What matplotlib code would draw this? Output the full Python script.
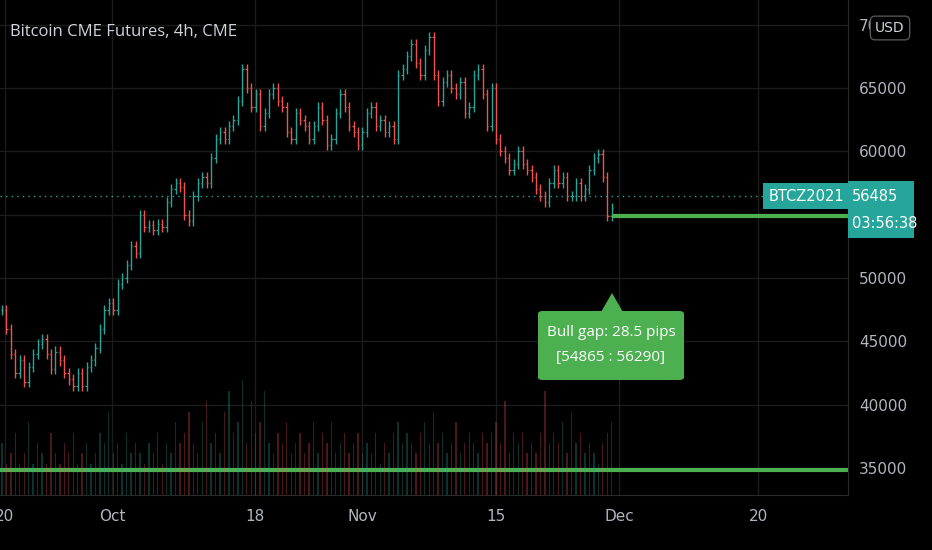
import matplotlib
matplotlib.use("Agg")
import matplotlib.pyplot as plt
from matplotlib.patches import FancyBboxPatch, Polygon
import numpy as np

closes = [47500,46000,44000,42500,43500,41800,43000,44000,44800,45200,44000,42800,44200,43500,42500,42000,41500,42500,41500,43000,43500,44500,
          46000,47500,48000,47500,49500,50000,51000,52500,52000,55000,54000,54200,53800,54300,54000,56000,57000,57500,57200,55000,54500,56500,57500,58000,57500,59500,61000,61500,61000,62000,62500,64000,
          66500,65000,63500,64500,62000,63000,64500,65000,64000,63500,61500,61000,63000,62500,62000,61000,62000,63500,62500,60500,61000,63000,64500,63500,62000,61500,60500,61500,
          63000,63500,62000,62500,61500,62000,61000,66000,66500,67500,68500,67000,66000,68000,69000,66000,64000,65500,66000,65000,64500,65500,63000,63500,66000,66500,64500,62000,
          65000,61000,60000,59500,58500,59000,60000,59000,58500,58000,57000,56500,56000,57500,58500,57500,58000,56500,56500,57500,56500,57000,58500,59500,59800,58000,54865,55500]
volumes = [5,3,4,6,3,4,7,3,5,4,3,6,4,3,5,4,6,3,4,5,3,4,
           6,5,8,4,5,3,6,4,5,4,3,5,4,6,3,5,4,7,5,6,8,5,4,7,9,5,6,4,8,10,6,7,
           11,5,9,6,7,10,5,4,6,5,7,4,5,6,4,5,7,4,6,5,7,4,5,6,4,5,6,4,
           5,4,6,3,5,4,6,7,5,6,5,4,6,7,5,8,5,6,4,5,7,4,5,6,5,4,6,5,
           6,7,5,9,4,6,5,6,4,5,4,6,10,5,6,5,7,4,8,5,6,4,5,4,3,5,6,7]
date_labels = ["20","Oct","18","Nov","15","Dec","20"]
date_px = [5,112,255,362,496,619,758]
y_ticks = [35000,40000,45000,50000,55000,60000,65000,70000]
last_price = 56485
gap_low, gap_high = 54865, 56290

W, H = 932, 550
fig = plt.figure(figsize=(9.32,5.5), dpi=100, facecolor="black")
plot_w, plot_h = 848, 495
ax = fig.add_axes([0, 1-plot_h/H, plot_w/W, plot_h/H], facecolor="black")
step = 4.45
def px2i(p): return (p-2)/step
ax.set_xlim(px2i(0), px2i(plot_w))
ax.set_ylim(32880, 71945)

vax = ax.twinx()
vax.set_ylim(0, 12*495/125)
vax.set_axis_off()

up, dn = "#26a69a", "#ef5350"
opens = [closes[0]] + closes[:-1]
for i,(o,c,v) in enumerate(zip(opens, closes, volumes)):
    col = up if c >= o else dn
    hi, lo = max(o,c)+400, min(o,c)-400
    ax.vlines(i, lo, hi, color=col, lw=1.0)
    ax.hlines(o, i-0.3, i, color=col, lw=0.9)
    ax.hlines(c, i, i+0.3, color=col, lw=0.9)
    vax.bar(i, v, width=0.3, color=col, alpha=0.3)

for y in y_ticks:
    ax.axhline(y, color="#1c1c1c", lw=1, zorder=0)
for p in date_px:
    ax.axvline(px2i(p), color="#1c1c1c", lw=1, zorder=0)

ax.axhline(last_price, color=up, ls=(0,(1,3)), lw=1)
ax.axhline(34850, color="#4caf50", lw=3)
ax.hlines(gap_low, len(closes)-1, px2i(plot_w), color="#4caf50", lw=3)

ax.set_xticks([px2i(p) for p in date_px])
ax.set_xticklabels(date_labels, color="#b2b5be", fontsize=11)
ax.tick_params(axis="x", length=0, pad=10)
ax.yaxis.tick_right()
ax.set_yticks(y_ticks)
ax.set_yticklabels([str(y) for y in y_ticks], color="#b2b5be", fontsize=11)
ax.tick_params(axis="y", length=0, pad=8)
for s in ax.spines.values(): s.set_visible(False)
ax.spines["bottom"].set_visible(True); ax.spines["bottom"].set_color("#2a2a2a")
ax.spines["right"].set_visible(True); ax.spines["right"].set_color("#2a2a2a")

fig.text(10/W, 1-32/H, "Bitcoin CME Futures, 4h, CME", color="#d1d4dc", fontsize=12, va="center", family="Open Sans")

# USD box (drawn on top of the 70000 label)
fig.text(890/W, 1-28/H, "USD", color="#d1d4dc", fontsize=10, ha="center", va="center", zorder=10,
         bbox=dict(boxstyle="round,pad=0.35", fc="black", ec="#555", lw=1))

# BTCZ2021 label and price box
fig.text(806/W, 1-196/H, "BTCZ2021", color="white", fontsize=10.5, ha="center", va="center", zorder=10,
         bbox=dict(boxstyle="square,pad=0.35", fc=up, ec="none"))
fig.patches.append(FancyBboxPatch((848/W, 1-238/H), 66/W, 57/H, boxstyle="square,pad=0", transform=fig.transFigure, fc=up, ec="none", zorder=9))
fig.text(852/W, 1-196/H, f"{last_price}", color="white", fontsize=10.5, va="center", zorder=10)
fig.text(852/W, 1-224/H, "03:56:38", color="white", fontsize=10.5, va="center", zorder=10)

# Bull gap annotation
gc = "#4caf50"
fig.patches.append(FancyBboxPatch((538/W, 1-380/H), 146/W, 69/H, boxstyle="round,pad=0,rounding_size=0.005", transform=fig.transFigure, fc=gc, ec="none"))
fig.patches.append(Polygon([(601/W,1-312/H),(623/W,1-312/H),(612/W,1-293/H)], closed=True, transform=fig.transFigure, fc=gc, ec="none"))
fig.text(611/W, 1-333/H, "Bull gap: 28.5 pips", color="white", fontsize=11, ha="center", va="center", family="Open Sans")
fig.text(611/W, 1-357/H, f"[{gap_low} : {gap_high}]", color="white", fontsize=11, ha="center", va="center", family="Open Sans")

fig.savefig("out.png", dpi=100, facecolor="black")
